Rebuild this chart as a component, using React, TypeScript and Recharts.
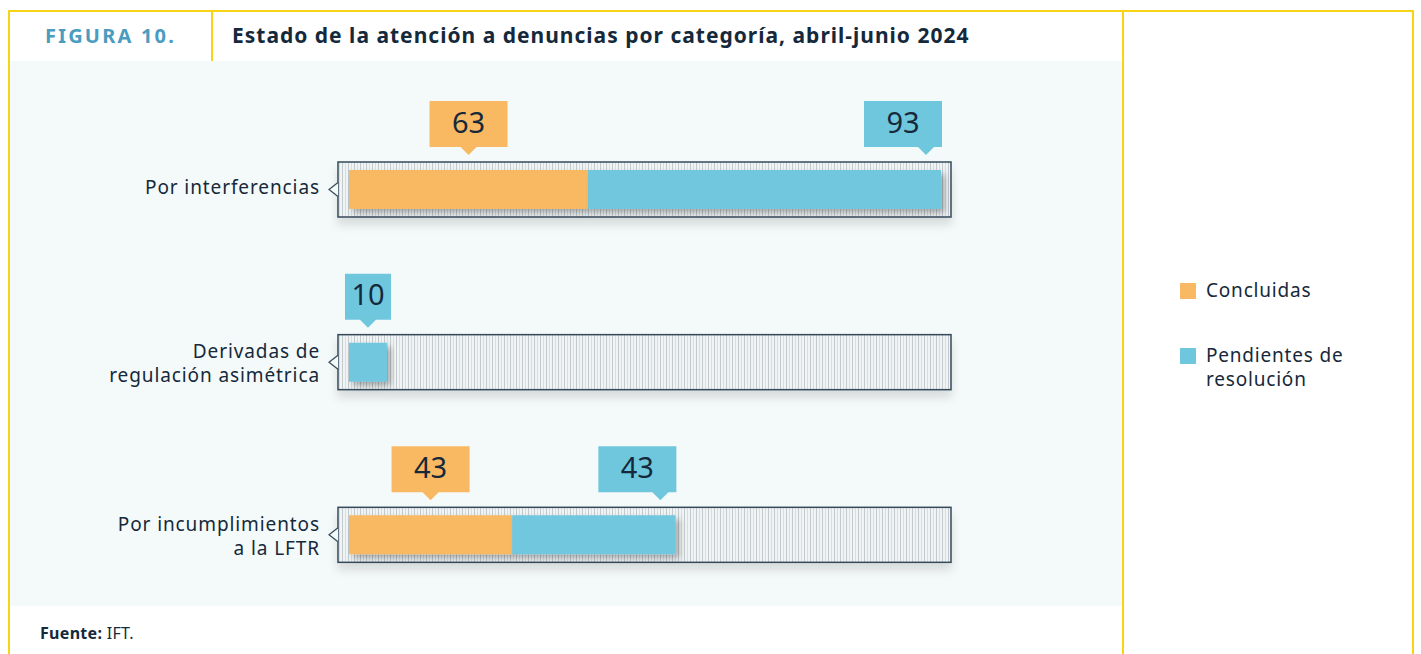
import React from 'react';
import { BarChart, Bar, XAxis, YAxis, LabelList } from 'recharts';

// Categories (one entry per row, split into display lines)
const categories = ['Por interferencias', 'Derivadas de regulación asimétrica', 'Por incumplimientos a la LFTR'];
const categoryLines = [['Por interferencias'], ['Derivadas de', 'regulación asimétrica'], ['Por incumplimientos', 'a la LFTR']];

// Series values
const concluidas = [63, 0, 43];
const pendientes = [93, 10, 43];

const seriesNames = ['Concluidas', 'Pendientes de resolución'];
const seriesLegendLines = [['Concluidas'], ['Pendientes de', 'resolución']];

const COLORS = {
    concluidas: '#f9b963',
    pendientes: '#6fc7de',
    text: '#15293b',
    yellow: '#f7d417',
    panel: '#f4f9f9',
    figura: '#4a9cc0',
};

const FONT = '"Noto Sans", sans-serif';

const data = categories.map((name, i) => ({
    name,
    concluidas: concluidas[i],
    pendientes: pendientes[i],
}));

// Hatched track behind each row, drawn from the bar background rect
const drawTrack = (x: number, y: number, width: number, height: number) => {
    const tx = x - 11;
    const ty = y - 8;
    const tw = width + 21;
    const th = height + 16;
    const cy = ty + th / 2;
    return (
        <g>
            <rect x={tx} y={ty} width={tw} height={th} fill="url(#hatch)" stroke="#34495a" strokeWidth={1.5} filter="url(#trackShadow)" />
            <path d={`M${tx} ${cy - 7} L${tx - 9} ${cy} L${tx} ${cy + 7}`} fill={COLORS.panel} stroke="#34495a" strokeWidth={1.2} />
        </g>
    );
};

const Track = (props: any) => {
    const { x, y, width, height } = props;
    return drawTrack(x, y, width, height);
};

// rows with no "concluidas" bar get their track from the second series
const TrackIfEmpty = (props: any) => {
    const { x, y, width, height, payload } = props;
    if (payload && payload.concluidas > 0) return null;
    return drawTrack(x, y, width, height);
};

const Callout = ({ cx, boxX, boxW, pointerX, top, fill, value }: any) => {
    const boxH = 46;
    const bottom = top + boxH;
    return (
        <g>
            <path
                d={`M${boxX} ${top} H${boxX + boxW} V${bottom} H${pointerX + 8} L${pointerX} ${bottom + 8} L${pointerX - 8} ${bottom} H${boxX} Z`}
                fill={fill}
            />
            <text x={cx} y={top + boxH / 2 + 1} textAnchor="middle" dominantBaseline="middle" fontSize={29} fill={COLORS.text} fontFamily={FONT}>
                {value}
            </text>
        </g>
    );
};

const concluidasLabel = (props: any) => {
    const { x, y, width, value } = props;
    if (!value) return null;
    const mid = x + width / 2;
    const boxW = 78;
    return <Callout cx={mid} boxX={mid - boxW / 2} boxW={boxW} pointerX={mid} top={y - 69} fill={COLORS.concluidas} value={value} />;
};

const pendientesLabel = (props: any) => {
    const { x, y, width, value } = props;
    if (!value) return null;
    if (width < 80) {
        const mid = x + width / 2;
        const boxW = 46;
        return <Callout cx={mid} boxX={mid - boxW / 2} boxW={boxW} pointerX={mid} top={y - 69} fill={COLORS.pendientes} value={value} />;
    }
    const boxW = 78;
    const right = x + width + 1;
    return <Callout cx={right - boxW / 2} boxX={right - boxW} boxW={boxW} pointerX={right - 16} top={y - 69} fill={COLORS.pendientes} value={value} />;
};

const CategoryTick = (props: any) => {
    const { x, y, index } = props;
    const lines = categoryLines[index] || [];
    const lh = 24;
    const shift = lines.length > 1 ? 3 : 0;
    const start = y + shift - ((lines.length - 1) * lh) / 2;
    return (
        <text x={x - 29} textAnchor="end" fontSize={19} letterSpacing={0.9} fill={COLORS.text} fontFamily={FONT}>
            {lines.map((l, i) => (
                <tspan key={i} x={x - 29} y={start + i * lh} dominantBaseline="middle">
                    {l}
                </tspan>
            ))}
        </text>
    );
};

export default function App() {
    const legendColors = [COLORS.concluidas, COLORS.pendientes];
    return (
        <div style={{ position: 'absolute', left: 0, top: 0, width: 1421, height: 654, background: '#fff', overflow: 'hidden', fontFamily: FONT, color: COLORS.text }}>
            {/* frame */}
            <div style={{ position: 'absolute', left: 8, top: 10, width: 1406, height: 700, border: `2px solid ${COLORS.yellow}`, boxSizing: 'border-box' }} />
            <div style={{ position: 'absolute', left: 1122, top: 10, width: 2, height: 650, background: COLORS.yellow }} />
            <div style={{ position: 'absolute', left: 211, top: 10, width: 2, height: 51, background: COLORS.yellow }} />
            <div style={{ position: 'absolute', left: 10, top: 61, width: 1112, height: 545, background: COLORS.panel }} />

            {/* title */}
            <div style={{ position: 'absolute', left: 10, top: 22, width: 201, textAlign: 'center', fontSize: 20, fontWeight: 700, letterSpacing: 2.2, color: COLORS.figura }}>
                FIGURA 10.
            </div>
            <div style={{ position: 'absolute', left: 232, top: 21, fontSize: 21, fontWeight: 700, letterSpacing: 1, whiteSpace: 'nowrap' }}>
                Estado de la atención a denuncias por categoría, abril-junio 2024
            </div>

            {/* chart */}
            <div style={{ position: 'absolute', left: 0, top: 0 }}>
                <BarChart width={1120} height={654} data={data} layout="vertical" margin={{ top: 103, right: 179, bottom: 33, left: 0 }}>
                    <defs>
                        <pattern id="hatch" width={6} height={10} patternUnits="userSpaceOnUse">
                            <rect width={6} height={10} fill="#f1f4f5" />
                            <rect x={0} width={1} height={10} fill="#c2cacd" />
                            <rect x={3} width={1} height={10} fill="#d7dde0" />
                        </pattern>
                        <filter id="trackShadow" x="-5%" y="-30%" width="110%" height="180%">
                            <feDropShadow dx={0} dy={7} stdDeviation={5} floodColor="#000" floodOpacity={0.12} />
                        </filter>
                        <filter id="barShadow" x="-10%" y="-20%" width="130%" height="160%">
                            <feDropShadow dx={4} dy={4} stdDeviation={3} floodColor="#000" floodOpacity={0.3} />
                        </filter>
                    </defs>
                    <XAxis type="number" domain={[0, 156]} hide />
                    <YAxis type="category" dataKey="name" width={349} axisLine={false} tickLine={false} tickSize={0} tickMargin={0} tick={<CategoryTick />} interval={0} />
                    <Bar dataKey="concluidas" stackId="a" name={seriesNames[0]} fill={COLORS.concluidas} barSize={39} background={<Track />} isAnimationActive={false} filter="url(#barShadow)">
                        <LabelList dataKey="concluidas" content={concluidasLabel} />
                    </Bar>
                    <Bar dataKey="pendientes" stackId="a" name={seriesNames[1]} fill={COLORS.pendientes} barSize={39} background={<TrackIfEmpty />} isAnimationActive={false} filter="url(#barShadow)">
                        <LabelList dataKey="pendientes" content={pendientesLabel} />
                    </Bar>
                </BarChart>
            </div>

            {/* legend */}
            {seriesLegendLines.map((lines, i) => (
                <div key={i} style={{ position: 'absolute', left: 1180, top: i === 0 ? 278 : 343, display: 'flex', alignItems: 'flex-start' }}>
                    <span style={{ width: 16, height: 16, background: legendColors[i], marginTop: 5, marginRight: 10, flex: 'none' }} />
                    <span style={{ fontSize: 19, letterSpacing: 0.8, lineHeight: '24px' }}>
                        {lines.map((l, j) => (
                            <div key={j}>{l}</div>
                        ))}
                    </span>
                </div>
            ))}

            {/* source */}
            <div style={{ position: 'absolute', left: 40, top: 622, fontSize: 16, letterSpacing: 0.3 }}>
                <b>Fuente:</b> IFT.
            </div>
        </div>
    );
}
